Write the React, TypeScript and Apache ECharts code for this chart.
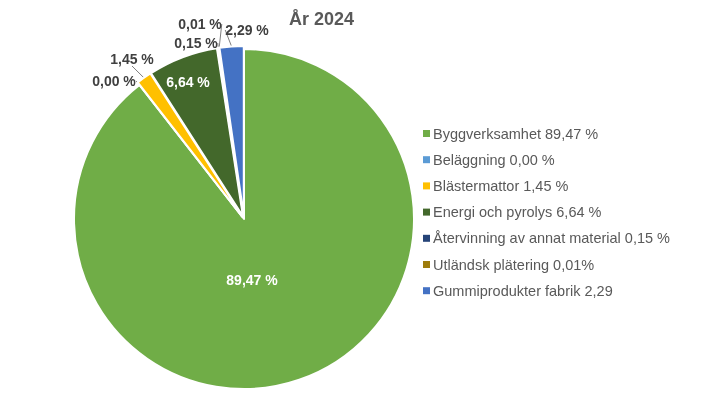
import React, { useEffect, useRef } from "react";
import * as echarts from "echarts";

const categories = [
  "Byggverksamhet 89,47 %",
  "Beläggning 0,00 %",
  "Blästermattor 1,45 %",
  "Energi och pyrolys 6,64 %",
  "Återvinning av annat material 0,15 %",
  "Utländsk plätering 0,01%",
  "Gummiprodukter fabrik 2,29",
];
const values = [89.47, 0.0, 1.45, 6.64, 0.15, 0.01, 2.29];
const labelTexts = ["89,47 %", "0,00 %", "1,45 %", "6,64 %", "0,15 %", "0,01 %", "2,29 %"];
const colors = ["#70AD47", "#5B9BD5", "#FFC000", "#43682B", "#264478", "#9E7C0C", "#4472C4"];
const insideLabel = [true, false, false, true, false, false, false];
const exploded = [false, true, true, true, true, true, true];
// label centres (annotation placement)
const labelPos: [number, number][] = [
  [252, 280],
  [114, 81],
  [132, 59],
  [188, 82],
  [196, 43],
  [200, 24],
  [247, 30],
];

const CX = 244;
const CY = 219;
const R = 170;
const EXPLODE = 3;

export default function App() {
  const ref = useRef<HTMLDivElement>(null);
  useEffect(() => {
    if (!ref.current) return;
    const chart = echarts.init(ref.current, undefined, { renderer: "svg" });
    const font = "'Liberation Sans', Arial, sans-serif";
    const total = values.reduce((a, b) => a + b, 0);
    let cum = 0;
    const series = values.map((v, i) => {
      const mid = (2 * Math.PI * (cum + v / 2)) / total;
      cum += v;
      const d = exploded[i] ? EXPLODE : 0;
      const center = [CX + d * Math.sin(mid), CY - d * Math.cos(mid)];
      return {
        type: "pie",
        name: categories[i],
        center,
        radius: [0, R],
        startAngle: 90,
        clockwise: true,
        avoidLabelOverlap: false,
        stillShowZeroSum: true,
        silent: true,
        z: i === 0 ? 1 : 2,
        labelLine: { show: true, length: 8, length2: 0, lineStyle: { color: "#7f7f7f", width: 1 } },
        labelLayout: (params: any) => {
          if (params.dataIndex !== i) return {};
          const p = labelPos[i];
          return {
            x: p[0],
            y: p[1],
            align: "center",
            verticalAlign: "middle",
            hideOverlap: false,
            moveOverlap: false,
          };
        },
        data: values.map((w, j) =>
          j === i
            ? {
                name: categories[j],
                value: w,
                itemStyle: { color: colors[j], borderColor: "#ffffff", borderWidth: 2 },
                label: {
                  show: true,
                  position: insideLabel[j] ? "inside" : "outside",
                  formatter: labelTexts[j],
                  color: insideLabel[j] ? "#ffffff" : "#404040",
                  fontFamily: font,
                  fontSize: 14,
                  fontWeight: "bold",
                },
                labelLine: { show: !insideLabel[j] },
              }
            : {
                name: "_" + j,
                value: w,
                itemStyle: { color: "rgba(0,0,0,0)", borderWidth: 0 },
                label: { show: false },
                labelLine: { show: false },
              }
        ),
      };
    });
    chart.setOption({
      animation: false,
      title: {
        text: "År 2024",
        left: 284,
        top: 5,
        textStyle: { fontFamily: font, fontSize: 18, fontWeight: "bold", color: "#595959" },
      },
      legend: {
        orient: "vertical",
        left: 418,
        top: 121,
        itemWidth: 7,
        itemHeight: 7,
        itemGap: 11.2,
        icon: "rect",
        selectedMode: false,
        textStyle: { fontFamily: font, fontSize: 14.5, color: "#595959", padding: [0, 0, 0, -2] },
        data: categories.map((name, i) => ({ name, itemStyle: { color: colors[i] } })),
      },
      series,
    });
    return () => chart.dispose();
  }, []);
  return <div ref={ref} style={{ position: "fixed", left: 0, top: 0, width: 706, height: 398 }} />;
}
